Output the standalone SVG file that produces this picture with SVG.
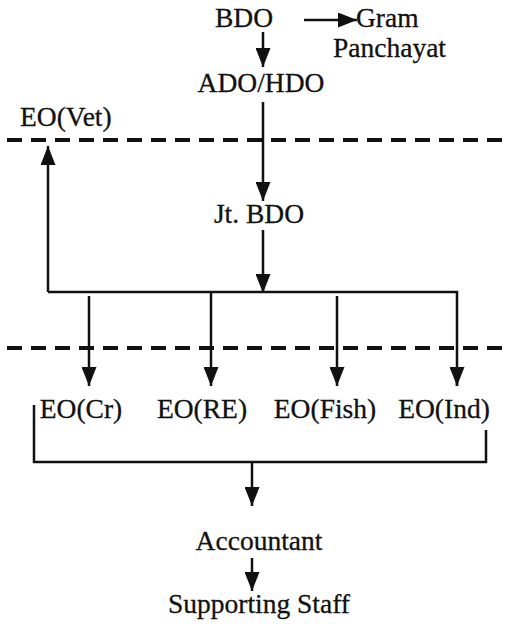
<svg xmlns="http://www.w3.org/2000/svg" width="507" height="624" viewBox="0 0 507 624">
<style>
text{font-family:"Liberation Serif","Times New Roman",serif;font-size:27.5px;fill:#111;stroke:#111;stroke-width:0.3}
.c{fill:none;stroke:#111;stroke-width:2.5}
.d{fill:none;stroke:#111;stroke-width:4;stroke-dasharray:15 9}
</style>
<defs>
<marker id="a" markerUnits="userSpaceOnUse" markerWidth="19" markerHeight="15" refX="19" refY="7.5" orient="auto" viewBox="0 0 19 15">
<path d="M0,0 L19,7.5 L0,15 Z" fill="#111"/>
</marker>
</defs>
<rect width="507" height="624" fill="#fff"/>
<g id="separators">
<line class="d" x1="7" y1="140" x2="507" y2="140"/>
<line class="d" x1="7" y1="348" x2="507" y2="348"/>
</g>
<g id="connectors">
<line class="c" x1="304" y1="20" x2="357" y2="20" marker-end="url(#a)"/>
<line class="c" x1="263" y1="32" x2="263" y2="67" marker-end="url(#a)"/>
<line class="c" x1="263" y1="102" x2="263" y2="201" marker-end="url(#a)"/>
<line class="c" x1="263" y1="230" x2="263" y2="293" marker-end="url(#a)"/>
<path class="c" d="M48,292 H457 V386"/>
<line class="c" x1="48" y1="292" x2="48" y2="146" marker-end="url(#a)"/>
<line class="c" x1="457" y1="370" x2="457" y2="386" marker-end="url(#a)"/>
<line class="c" x1="89" y1="296" x2="89" y2="386" marker-end="url(#a)"/>
<line class="c" x1="211" y1="292" x2="211" y2="386" marker-end="url(#a)"/>
<line class="c" x1="337" y1="296" x2="337" y2="386" marker-end="url(#a)"/>
<path class="c" d="M34,405 V462 H486 V430"/>
<line class="c" x1="252" y1="462" x2="252" y2="506" marker-end="url(#a)"/>
<line class="c" x1="252" y1="558" x2="252" y2="591" marker-end="url(#a)"/>
</g>
<g id="n-bdo"><text x="244" y="27" text-anchor="middle">BDO</text></g>
<g id="n-gram"><text x="356" y="27">Gram</text><text x="333" y="57">Panchayat</text></g>
<g id="n-ado"><text x="261" y="92" text-anchor="middle">ADO/HDO</text></g>
<g id="n-vet"><text x="20" y="126">EO(Vet)</text></g>
<g id="n-jtbdo"><text x="259" y="223" text-anchor="middle">Jt. BDO</text></g>
<g id="n-cr"><text x="81" y="418" text-anchor="middle">EO(Cr)</text></g>
<g id="n-re"><text x="202" y="418" text-anchor="middle">EO(RE)</text></g>
<g id="n-fish"><text x="325" y="418" text-anchor="middle">EO(Fish)</text></g>
<g id="n-ind"><text x="444" y="418" text-anchor="middle">EO(Ind)</text></g>
<g id="n-acc"><text x="259" y="550" text-anchor="middle">Accountant</text></g>
<g id="n-staff"><text x="259" y="613" text-anchor="middle">Supporting Staff</text></g>
</svg>
